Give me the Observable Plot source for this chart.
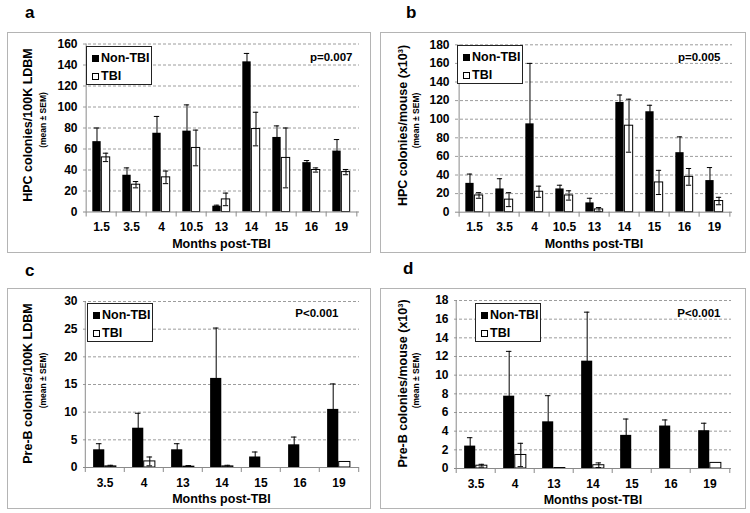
<!DOCTYPE html>
<html><head><meta charset="utf-8">
<script src="https://cdn.jsdelivr.net/npm/d3@7"></script>
<script src="https://cdn.jsdelivr.net/npm/@observablehq/plot@0.6"></script>
<style>
body{margin:0;background:#fff;font-family:"Liberation Sans",Arial,sans-serif;}
#page{position:relative;width:750px;height:513px;overflow:hidden;background:#fff;}
.frame{position:absolute;border:1px solid #b4b4b4;box-sizing:border-box;}
.chart{position:absolute;}
.letter{position:absolute;font-weight:bold;font-size:17px;line-height:1;}
.legend{position:absolute;border:1px solid #222;box-sizing:border-box;background:#fff;font-weight:bold;font-size:12.5px;color:#000;}
.legend .row{position:absolute;left:5px;display:flex;align-items:center;height:14px;line-height:14px;}
.sw{width:7px;height:7px;box-sizing:border-box;border:1px solid #000;margin-right:2px;}
</style></head><body><div id="page"></div>
<script>
// ---- data ----
const monthsHPC = ["1.5","3.5","4","10.5","13","14","15","16","19"];
const monthsPreB = ["3.5","4","13","14","15","16","19"];
const seriesNames = ["Non-TBI","TBI"];

// a: HPC colonies / 100K LDBM
const aNonMean = [67, 35, 75, 77, 5.5, 143, 71, 47, 58];
const aNonSem  = [13, 7, 16, 25, 1, 8, 11, 2, 11];
const aTbiMean = [52, 26, 33, 61, 12, 79, 51.5, 40, 38];
const aTbiSem  = [4, 3, 6, 17, 6, 16, 28.5, 2, 2.5];
const aTicks = [0, 20, 40, 60, 80, 100, 120, 140, 160];

// b: HPC colonies / mouse (x10^3)
const bNonMean = [31, 25, 95, 25, 10, 118, 108, 64, 34];
const bNonSem  = [10, 11, 65, 4, 5, 8, 7, 17, 14];
const bTbiMean = [18, 13.5, 22, 18, 3, 93, 32, 38, 12];
const bTbiSem  = [3, 7.5, 6, 5, 2, 28.5, 13, 9, 4];
const bTicks = [0, 20, 40, 60, 80, 100, 120, 140, 160, 180];

// c: Pre-B colonies / 100K LDBM
const cNonMean = [3.2, 7.1, 3.2, 16.1, 1.9, 4.1, 10.5];
const cNonSem  = [1.1, 2.7, 1.1, 9.1, 0.9, 1.4, 4.6];
const cTbiMean = [0.2, 1.1, 0.15, 0.2, 0, 0, 1.0];
const cTbiSem  = [0.2, 0.8, 0.2, 0.2, 0, 0, 0];
const cTicks = [0, 5, 10, 15, 20, 25, 30];

// d: Pre-B colonies / mouse (x10^3)
const dNonMean = [2.4, 7.75, 5.0, 11.5, 3.55, 4.55, 4.05];
const dNonSem  = [0.9, 4.8, 2.8, 5.25, 1.75, 0.65, 0.8];
const dTbiMean = [0.3, 1.45, 0.05, 0.35, 0, 0, 0.6];
const dTbiSem  = [0.15, 1.25, 0, 0.25, 0, 0, 0];
const dTicks = [0, 2, 4, 6, 8, 10, 12, 14, 16, 18];

const xTitle = "Months post-TBI";
const subTitle = "(mean ± SEM)";

const panels = [
  {letter:"a", lx:25, ly:4, left:7, top:32, width:364, height:221, ml:76, mr:12, mt:11.5, mb:41.5,
   months:monthsHPC, non:aNonMean, nonSem:aNonSem, tbi:aTbiMean, tbiSem:aTbiSem, ticks:aTicks,
   yTitle:"HPC colonies/100K LDBM", tdx:-56, sdx:-40, tdy:-3, sdy:-8,
   p:"p=0.007", pdx:-7, pdy:13.5, leg:[86,46]},
  {letter:"b", lx:406, ly:4, left:380, top:32, width:366, height:221, ml:75, mr:14, mt:12.3, mb:41.3,
   months:monthsHPC, non:bNonMean, nonSem:bNonSem, tbi:bTbiMean, tbiSem:bTbiSem, ticks:bTicks,
   yTitle:"HPC colonies/mouse (x10³)", tdx:-53, sdx:-39, tdy:-3, sdy:-8,
   p:"p=0.005", pdx:-12, pdy:12.7, leg:[457,45]},
  {letter:"c", lx:25, ly:262, left:7, top:288, width:364, height:221, ml:76, mr:12, mt:13, mb:42,
   months:monthsPreB, non:cNonMean, nonSem:cNonSem, tbi:cTbiMean, tbiSem:cTbiSem, ticks:cTicks,
   yTitle:"Pre-B colonies/100K LDBM", tdx:-56, sdx:-40, tdy:-1, sdy:-4,
   p:"P<0.001", pdx:-21, pdy:12, leg:[87,303]},
  {letter:"d", lx:403, ly:260, left:380, top:288, width:366, height:221, ml:74, mr:15, mt:12, mb:41,
   months:monthsPreB, non:dNonMean, nonSem:dNonSem, tbi:dTbiMean, tbiSem:dTbiSem, ticks:dTicks,
   yTitle:"Pre-B colonies/mouse (x10³)", tdx:-52, sdx:-38, tdy:-1, sdy:-4,
   p:"P<0.001", pdx:-11, pdy:13, leg:[475,303]}
];

const page = document.getElementById("page");
const axisGray = "#8a8a8a";

for (const cfg of panels) {
  const n = cfg.months.length;
  const step = (cfg.width - cfg.ml - cfg.mr) / n;
  const barW = step / 3.4;
  const pad = (step - 2 * barW) / 2;
  const off = barW / 2;
  const cap = 6;
  const capInset = (step - cap) / 2;
  const non = cfg.months.map((m, i) => ({month: m, mean: cfg.non[i], sem: cfg.nonSem[i]}));
  const tbi = cfg.months.map((m, i) => ({month: m, mean: cfg.tbi[i], sem: cfg.tbiSem[i]}));
  const yMax = cfg.ticks[cfg.ticks.length - 1];
  const errMarks = (arr, dx) => {
    const e = arr.filter(d => d.sem > 0);
    return [
      Plot.ruleX(e, {x: "month", y1: d => Math.max(0, d.mean - d.sem), y2: d => d.mean + d.sem, dx, stroke: "#000", strokeWidth: 1}),
      Plot.tickY(e, {x: "month", y: d => d.mean + d.sem, dx, insetLeft: capInset, insetRight: capInset, stroke: "#000", strokeWidth: 1}),
      Plot.tickY(e.filter(d => d.mean - d.sem > 0), {x: "month", y: d => d.mean - d.sem, dx, insetLeft: capInset, insetRight: capInset, stroke: "#000", strokeWidth: 1})
    ];
  };
  const chart = Plot.plot({
    width: cfg.width, height: cfg.height,
    marginLeft: cfg.ml, marginRight: cfg.mr, marginTop: cfg.mt, marginBottom: cfg.mb,
    style: {fontFamily: "'Liberation Sans', Arial, sans-serif", fontWeight: "bold", fontSize: "12px", color: "#000", background: "transparent", overflow: "visible"},
    x: {domain: cfg.months, padding: 0, tickSize: 0, tickPadding: 10.5, label: null},
    y: {domain: [0, yMax], ticks: cfg.ticks, tickSize: 0, tickPadding: 6, label: null, tickFormat: d => String(d)},
    marks: [
      Plot.ruleY(cfg.ticks.filter(t => t > 0), {stroke: "#9c9c9c", strokeDasharray: "3,2", strokeWidth: 1}),
      Plot.ruleX([cfg.months[0]], {x: d => d, dx: -step / 2, stroke: axisGray}),
      Plot.ruleX(cfg.months, {x: d => d, dx: -step / 2, y1: 0, y2: 0, insetBottom: -5, stroke: axisGray}),
      Plot.ruleX([cfg.months[n - 1]], {x: d => d, dx: step / 2, y1: 0, y2: 0, insetBottom: -5, stroke: axisGray}),
      Plot.barY(non, {x: "month", y: "mean", fill: "#000", insetLeft: pad, insetRight: step / 2}),
      Plot.barY(tbi, {x: "month", y: "mean", fill: "#fff", stroke: "#000", strokeWidth: 1, insetLeft: step / 2, insetRight: pad}),
      ...errMarks(non, -off),
      ...errMarks(tbi, off),
      Plot.ruleY([0], {stroke: axisGray}),
      Plot.text([cfg.p], {frameAnchor: "top-right", textAnchor: "end", dx: cfg.pdx, dy: cfg.pdy, lineAnchor: "middle", fontSize: 11.5, fontWeight: "bold"}),
      Plot.text([xTitle], {frameAnchor: "bottom", textAnchor: "middle", dy: 31.5, lineAnchor: "middle", fontSize: 12.5, fontWeight: "bold"}),
      Plot.text([cfg.yTitle], {frameAnchor: "left", textAnchor: "middle", dx: cfg.tdx, dy: cfg.tdy, rotate: -90, lineAnchor: "middle", fontSize: 12.5, fontWeight: "bold"}),
      Plot.text([subTitle], {frameAnchor: "left", textAnchor: "middle", dx: cfg.sdx, dy: cfg.sdy, rotate: -90, lineAnchor: "middle", fontSize: 8.5, fontWeight: "bold"})
    ]
  });

  const frame = document.createElement("div");
  frame.className = "frame";
  Object.assign(frame.style, {left: cfg.left + "px", top: cfg.top + "px", width: cfg.width + "px", height: cfg.height + "px"});
  page.appendChild(frame);

  const holder = document.createElement("div");
  holder.className = "chart";
  Object.assign(holder.style, {left: cfg.left + "px", top: cfg.top + "px"});
  holder.appendChild(chart);
  page.appendChild(holder);

  const letter = document.createElement("div");
  letter.className = "letter";
  letter.textContent = cfg.letter;
  Object.assign(letter.style, {left: cfg.lx + "px", top: cfg.ly + "px"});
  page.appendChild(letter);

  const leg = document.createElement("div");
  leg.className = "legend";
  Object.assign(leg.style, {left: cfg.leg[0] + "px", top: cfg.leg[1] + "px", width: "66px", height: "39px"});
  seriesNames.forEach((s, i) => {
    const row = document.createElement("div");
    row.className = "row";
    row.style.top = (4 + i * 18) + "px";
    const sw = document.createElement("span");
    sw.className = "sw";
    sw.style.background = i === 0 ? "#000" : "#fff";
    const t = document.createElement("span");
    t.textContent = s;
    row.appendChild(sw); row.appendChild(t);
    leg.appendChild(row);
  });
  page.appendChild(leg);
}
</script></body></html>
